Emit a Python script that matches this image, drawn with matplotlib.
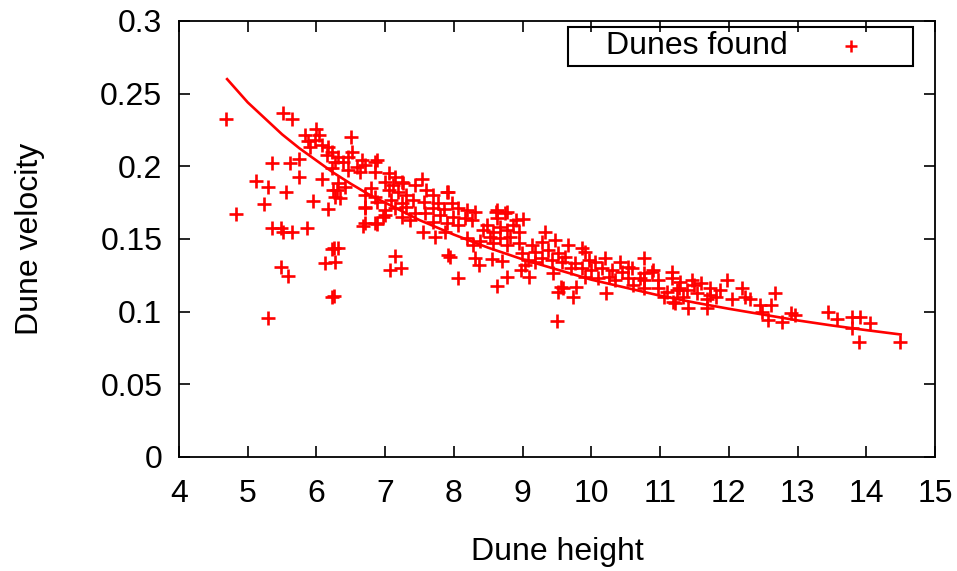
import matplotlib
matplotlib.use("Agg")
import matplotlib.pyplot as plt
from matplotlib.patches import Rectangle

plt.rcParams['font.family'] = ['Liberation Sans', 'DejaVu Sans']

# Scatter data: (dune height, dune velocity)
height = [
    4.69, 4.83, 5.12, 5.23, 5.30, 5.36, 5.36, 5.49, 5.52, 5.65, 5.86, 5.56, 5.62, 5.74, 5.74,
    5.51, 5.64, 5.49, 5.58, 5.30, 5.95, 6.08, 6.17, 6.22, 6.12, 6.22, 6.24,
    6.50, 6.25, 6.32, 6.27, 6.25, 7.14, 7.07, 7.23, 6.68, 6.88, 6.70, 7.00, 7.55, 7.72, 7.87, 7.92,
    6.88, 7.92, 7.94, 8.06, 8.31, 8.36, 8.55, 8.70, 8.77, 8.63, 8.98, 9.09, 9.00, 9.33, 8.75, 8.61,
    9.44, 9.52, 9.56, 9.50,
    10.76, 9.78, 9.74, 9.59, 10.22, 9.86, 10.42, 10.88, 10.71, 11.17, 11.22,
    11.98, 11.41, 11.68, 12.19, 12.67, 12.91, 12.57, 12.77, 12.45, 12.31, 12.48, 12.62,
    13.45, 13.57, 13.79, 13.91, 13.79, 14.05, 13.90, 14.49, 12.96,
    6.00, 5.83, 6.03, 5.88, 5.98, 5.91, 6.08, 6.17, 6.22, 6.15, 6.51, 6.46, 6.32, 6.27, 6.39,
    6.66, 6.85, 6.71, 6.59, 6.22, 6.46, 6.63, 6.85, 7.05, 7.14, 6.32, 6.42, 6.30, 7.00, 7.12,
    7.24, 6.80, 7.05, 7.19, 6.27, 6.34, 6.71, 6.85, 7.09, 7.24, 6.71, 6.88, 7.00, 7.14, 6.97,
    6.71, 6.85,
    7.53, 7.43, 7.26, 7.60, 7.90, 7.70, 7.31, 7.41, 7.56, 7.77, 7.97, 7.31, 7.70, 7.85, 8.06,
    8.19, 8.31, 8.62, 8.77, 7.43, 7.58, 7.80, 7.99, 8.16, 8.26, 8.62, 7.24, 7.36, 7.70, 7.90,
    8.06, 8.48, 8.67, 8.86, 8.43, 8.57, 8.77, 8.52, 8.67, 8.82, 8.38, 8.57, 8.77, 8.19, 8.28,
    8.91,
    8.94, 8.94, 9.13, 9.28, 9.47, 9.66, 9.91, 8.99, 9.18, 9.37, 9.52, 9.62, 9.08, 9.28, 9.42,
    9.57, 9.76, 9.96, 10.05, 10.20, 10.54, 9.03, 9.18, 9.71, 9.86, 10.00, 10.15, 10.30, 10.44,
    10.25, 10.10, 9.91, 10.34, 10.54,
    10.59, 10.76, 10.90, 10.76, 10.97, 11.17, 11.29, 11.46, 11.60, 11.73, 11.87, 12.24, 12.04,
    10.61, 10.76, 10.97, 11.05, 11.19, 11.10, 11.24, 11.39, 11.53, 11.68, 11.34, 11.82, 11.49,
    11.73, 11.27,
]
velocity = [
    0.2326, 0.167, 0.190, 0.174, 0.1856, 0.2025, 0.1578, 0.1578, 0.1546, 0.1546, 0.1578, 0.182, 0.2025, 0.205, 0.193,
    0.2365, 0.2326, 0.131, 0.1248, 0.0959, 0.1764, 0.191, 0.1704, 0.143, 0.1337, 0.110, 0.1837,
    0.2204, 0.1436, 0.1436, 0.1344, 0.111, 0.1383, 0.1287, 0.1298, 0.159, 0.160, 0.171, 0.1665, 0.155, 0.1516, 0.1546, 0.139,
    0.2044, 0.1826, 0.1378, 0.123, 0.1367, 0.132, 0.136, 0.135, 0.124, 0.118, 0.1287, 0.1236, 0.1636, 0.155, 0.168, 0.1688,
    0.1264, 0.1137, 0.117, 0.0938,
    0.1367, 0.117, 0.110, 0.116, 0.1126, 0.1436, 0.1344, 0.1275, 0.123, 0.1275, 0.1058,
    0.1218, 0.1023, 0.1023, 0.116, 0.1126, 0.0989, 0.094, 0.093, 0.1046, 0.109, 0.100, 0.1046,
    0.100, 0.0948, 0.0966, 0.0966, 0.0886, 0.092, 0.0794, 0.0794, 0.0977,
    0.2255, 0.2216, 0.2216, 0.2177, 0.2182, 0.2135, 0.2147, 0.2135, 0.210, 0.2078, 0.210, 0.2066, 0.2066, 0.2032, 0.2032,
    0.2044, 0.2032, 0.2009, 0.1998, 0.1987, 0.1975, 0.1963, 0.1963, 0.1952, 0.1929, 0.1883, 0.186, 0.1837, 0.1895, 0.1872,
    0.1895, 0.1848, 0.1837, 0.1826, 0.1791, 0.178, 0.1803, 0.1791, 0.1768, 0.1746, 0.1723, 0.1757, 0.170, 0.1711, 0.1654,
    0.1608, 0.1612,
    0.191, 0.1872, 0.1883, 0.1837, 0.1826, 0.1803, 0.1803, 0.1768, 0.1757, 0.1746, 0.1746, 0.1723, 0.1711, 0.1704, 0.1711,
    0.170, 0.1688, 0.170, 0.1688, 0.1677, 0.1677, 0.1665, 0.1654, 0.1642, 0.163, 0.1642, 0.1654, 0.163, 0.162, 0.1608,
    0.1596, 0.1596, 0.1585, 0.1596, 0.1562, 0.155, 0.1562, 0.1516, 0.1505, 0.1516, 0.1484, 0.147, 0.1459, 0.1505, 0.1459,
    0.163,
    0.155, 0.147, 0.1459, 0.1482, 0.1493, 0.1459, 0.1413, 0.1402, 0.1413, 0.1424, 0.1402, 0.1378, 0.1356, 0.1367, 0.1356,
    0.1344, 0.1333, 0.1356, 0.1344, 0.1367, 0.131, 0.1321, 0.1344, 0.1298, 0.1298, 0.1287, 0.1298, 0.1287, 0.1275,
    0.124, 0.123, 0.124, 0.1218, 0.123,
    0.1298, 0.1264, 0.1287, 0.1218, 0.1218, 0.123, 0.1206, 0.1218, 0.1195, 0.116, 0.1149, 0.1103, 0.109,
    0.1184, 0.116, 0.116, 0.1103, 0.1069, 0.1137, 0.1149, 0.1149, 0.1126, 0.109, 0.1103, 0.1103, 0.1184,
    0.1115, 0.116,
]

# Fitted curve
fit_height = [4.7, 4.85, 5.0, 5.25, 5.5, 5.75, 6.0, 6.25, 6.5, 6.75, 7.0, 7.5, 8.0, 8.5,
              9.0, 9.5, 10.0, 10.5, 11.0, 11.5, 12.0, 12.5, 13.0, 13.5, 14.0, 14.5]
fit_velocity = [0.260, 0.252, 0.244, 0.233, 0.222, 0.2125, 0.204, 0.1955, 0.188, 0.181,
                0.175, 0.163, 0.153, 0.144, 0.136, 0.129, 0.122, 0.1165, 0.111, 0.1063,
                0.102, 0.098, 0.094, 0.0905, 0.0873, 0.0843]

xticks = [4, 5, 6, 7, 8, 9, 10, 11, 12, 13, 14, 15]
yticks = [0, 0.05, 0.1, 0.15, 0.2, 0.25, 0.3]
ytick_labels = ["0", "0.05", "0.1", "0.15", "0.2", "0.25", "0.3"]

W, H = 957, 571
fig = plt.figure(figsize=(W / 100, H / 100), dpi=100)
ax = fig.add_axes([179 / W, 1 - 457 / H, (935 - 179) / W, (457 - 21) / H])

ax.plot(fit_height, fit_velocity, color='#ff0000', lw=1.9, zorder=2)
ax.scatter(height, velocity, marker='+', s=90, color='#ff0000', linewidths=1.9,
           label='Dunes found', zorder=3)

ax.set_xlim(4, 15)
ax.set_ylim(0, 0.3)
ax.set_xticks(xticks)
ax.set_yticks(yticks)
ax.set_yticklabels(ytick_labels)
ax.tick_params(direction='in', length=8, width=1.2, top=True, right=True,
               labelsize=23, colors='black')
ax.tick_params(axis='x', pad=16)
ax.tick_params(axis='y', pad=12)
for s in ax.spines.values():
    s.set_linewidth(1.3)

ax.set_xlabel('Dune height', fontsize=23, labelpad=20)
ax.set_ylabel('Dune velocity', fontsize=23, labelpad=40)

# Legend (gnuplot style: text, then sample, inside a boxed key)
fs = 23
em = fs * 100 / 72.0
hl = 2 * (913 - 851) / em
leg = ax.legend(loc='center right', bbox_to_anchor=(913 / W, 1 - 46.5 / H),
                bbox_transform=fig.transFigure, fontsize=fs, markerfirst=False,
                frameon=False, borderpad=0, handletextpad=0.05, borderaxespad=0,
                handlelength=hl, scatterpoints=1)
leg.legend_handles[0].set_sizes([80])
leg.legend_handles[0].set_linewidths([1.8])
fig.patches.append(Rectangle((568 / W, 1 - 66 / H), (913 - 568) / W, (66 - 27) / H,
                             transform=fig.transFigure, fill=False, edgecolor='black',
                             linewidth=1.5, zorder=5))

fig.savefig('out.png', dpi=100)
